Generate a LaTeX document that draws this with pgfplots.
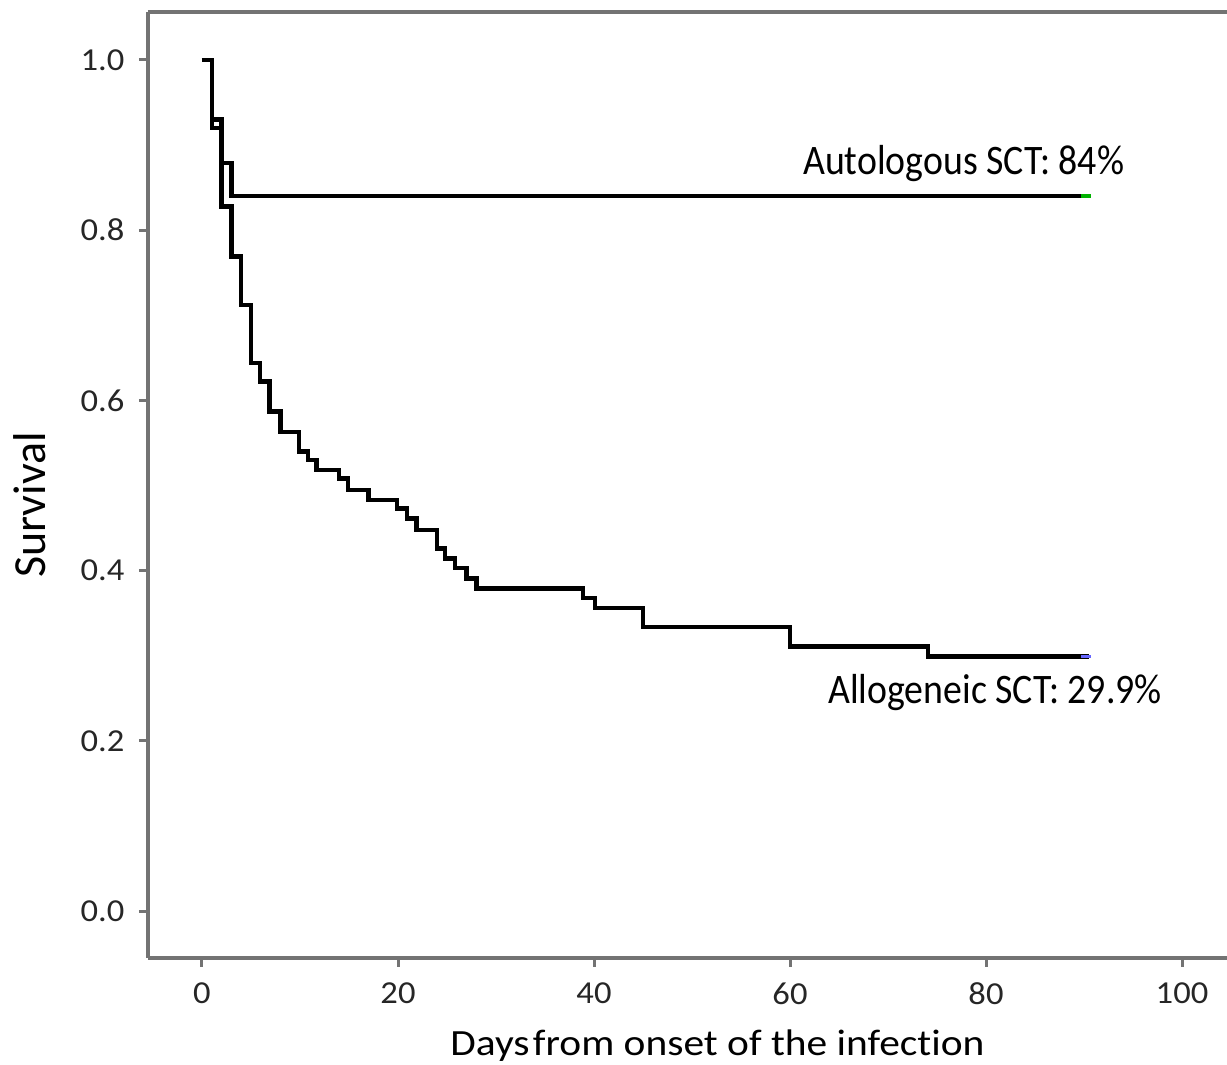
\documentclass[border=0pt]{standalone}
\usepackage{fontspec}
\setmainfont[Ligatures=CommonOff]{Carlito}
\newfontfamily\wideC[FakeStretch=1.12, Ligatures=CommonOff]{Carlito}
\newfontfamily\tickC[FakeStretch=1.08, Ligatures=CommonOff]{Carlito}
\newfontfamily\narrowC[FakeStretch=0.9, Ligatures=CommonOff]{Carlito}
\usepackage{pgfplots}
\pgfplotsset{compat=1.18}
\definecolor{axgray}{gray}{0.45}
\begin{document}
\begin{tikzpicture}
\useasboundingbox (-148pt,-107pt) rectangle (1079pt,958pt);
\begin{axis}[
  at={(0pt,0pt)}, anchor=south west,
  width=1079pt, height=946pt, scale only axis,
  xmin=-5.51, xmax=104.59, ymin=-0.0552, ymax=1.0564,
  clip=false,
  axis x line*=bottom, axis y line*=left,
  axis line style={-, draw=axgray, line width=3.5pt},
  xtick={0,20,40,60,80,100},
  ytick={0,0.2,0.4,0.6,0.8,1.0},
  minor tick num=0,
  tick align=outside,
  major tick length=9pt,
  tick style={axgray, line width=3pt},
  /pgf/number format/assume math mode=true,
  yticklabel style={xshift=-11pt, /pgf/number format/.cd, fixed, fixed zerofill, precision=1},
  xticklabel style={yshift=-12pt},
  ticklabel style={font=\tickC\fontsize{32}{38}\selectfont, text=black!85},
]
\addplot[const plot, black, line width=4.5pt, line join=miter] coordinates {
(0,1.0) (1,0.93) (2,0.879) (3,0.84) (90.5,0.84)};
\addplot[const plot, black, line width=4.5pt, line join=miter] coordinates {
(0,1.0) (1,0.92) (2,0.828) (3,0.769) (4,0.712) (5,0.644) (5.9,0.622)
(6.9,0.587) (8,0.563) (9.9,0.540) (10.8,0.530) (11.7,0.518) (14,0.508)
(14.9,0.495) (17,0.483) (19.9,0.473) (20.9,0.461) (21.9,0.448) (24,0.426)
(24.8,0.414) (25.8,0.403) (27,0.391) (28,0.379) (38.9,0.368) (40.1,0.356)
(45,0.334) (60,0.311) (74.1,0.299) (90.5,0.299)};
\addplot[green!70!black, line width=3.5pt] coordinates {(89.7,0.84) (90.7,0.84)};
\addplot[blue!60, line width=3.5pt] coordinates {(89.7,0.299) (90.7,0.299)};
\draw[axgray, line width=3.5pt] (rel axis cs:0,1) -- (rel axis cs:1.02,1);
\node[anchor=base west, inner sep=0pt, font=\narrowC\fontsize{42}{48}\selectfont] at (axis cs:61.33,0.8649) {Autologous SCT: 84\%};
\node[anchor=base west, inner sep=0pt, font=\narrowC\fontsize{42}{48}\selectfont] at (axis cs:63.88,0.2444) {Allogeneic SCT: 29.9\%};
\node[anchor=base, inner sep=0pt, font=\wideC\fontsize{37}{44}\selectfont] at (axis cs:52.6,-0.1692) {Days\hspace{-6pt} from onset of the infection};
\node[anchor=base, inner sep=0pt, rotate=90, font=\fontsize{46}{52}\selectfont] at (axis cs:-15.92,0.4771) {Survival};
\end{axis}
\end{tikzpicture}
\end{document}
